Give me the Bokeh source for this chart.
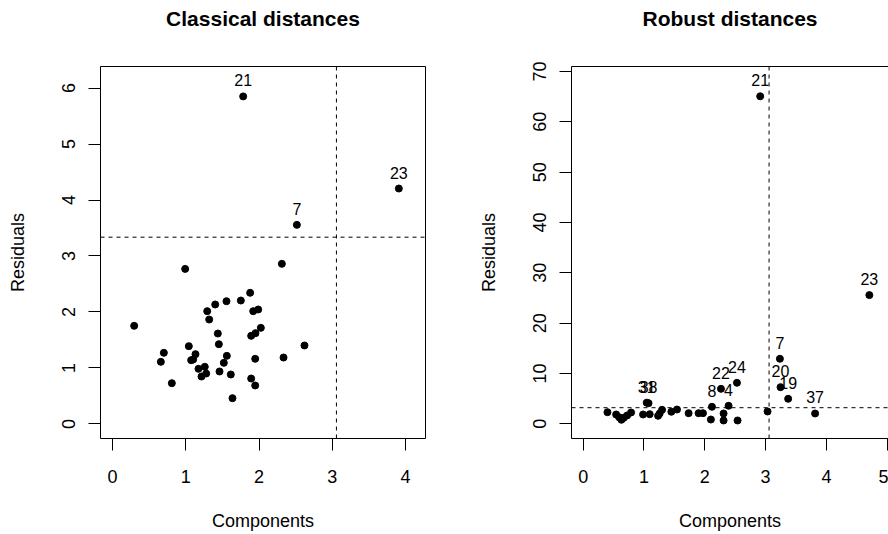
from bokeh.plotting import figure
from bokeh.layouts import row
from bokeh.models import ColumnDataSource, Span, FixedTicker, LinearAxis, Range1d
from bokeh.core.properties import value
from bokeh.embed import file_html
from bokeh.resources import INLINE

# ---- Classical distances (left panel) ----
cl_comp = [1.784, 3.909, 2.517, 2.312, 0.992, 0.296, 1.879, 1.752, 1.556, 1.402,
           1.293, 1.320, 1.921, 1.989, 2.025, 1.952, 1.893, 1.438, 1.452, 2.621,
           1.042, 0.701, 0.660, 1.133, 1.101, 1.074, 1.561, 1.520, 1.948, 2.335,
           1.260, 1.174, 1.279, 1.215, 1.461, 1.615, 1.893, 1.948, 0.810, 1.638]
cl_resid = [5.85, 4.205, 3.556, 2.86, 2.77, 1.753, 2.343, 2.205, 2.193, 2.134,
            2.015, 1.866, 2.015, 2.045, 1.717, 1.622, 1.574, 1.616, 1.425, 1.402,
            1.39, 1.271, 1.11, 1.247, 1.151, 1.14, 1.217, 1.092, 1.164, 1.187,
            1.021, 0.985, 0.901, 0.848, 0.938, 0.884, 0.812, 0.688, 0.729, 0.461]
cl_label = ["21", "23", "7"] + [""] * 37
cl_cut_comp = 3.057
cl_cut_resid = 3.336

# ---- Robust distances (right panel) ----
rb_comp = [2.911, 4.706, 3.235, 3.245, 3.371, 3.814, 2.529, 2.266, 2.118, 2.391,
           1.045, 1.075,
           0.399, 0.542, 0.591, 0.629, 0.667, 0.722, 0.788, 0.985, 1.094, 1.232,
           1.258, 1.297, 1.450, 1.543, 1.734, 1.898, 1.970, 2.100, 2.309, 2.309,
           2.539, 3.032]
rb_resid = [65.07, 25.57, 12.92, 7.28, 4.97, 2.05, 8.15, 6.95, 3.38, 3.58,
            4.2, 4.1,
            2.31, 1.85, 1.31, 0.80, 1.19, 1.65, 2.25, 1.85, 1.91, 1.59,
            2.05, 2.78, 2.39, 2.84, 2.11, 2.11, 2.11, 0.85, 2.05, 0.66,
            0.66, 2.45]
rb_label = ["21", "23", "7", "20", "19", "37", "24", "22", "8", "4", "31", "38"] + [""] * 22
rb_cut_comp = 3.057
rb_cut_resid = 3.2

FONT = "Liberation Sans"


def style_axis(ax, orient):
    ax.major_label_text_font = FONT
    ax.major_label_text_font_size = "18px"
    ax.major_label_text_color = "black"
    ax.axis_label_text_font = FONT
    ax.axis_label_text_font_size = "18px"
    ax.axis_label_text_font_style = "normal"
    ax.axis_label_text_color = "black"
    ax.major_tick_in = 0
    ax.major_tick_out = 12
    ax.minor_tick_in = 0
    ax.minor_tick_out = 0
    ax.major_tick_line_color = "black"
    if orient == "y":
        ax.major_label_orientation = "vertical"
        ax.major_label_standoff = 13
        ax.axis_label_standoff = 32
    else:
        ax.major_label_standoff = 19
        ax.axis_label_standoff = 25


def make_panel(title, xs, ys, labels, cutx, cuty, xr, yr, xt, yt, mb_left, mb_right, box):
    p = figure(width=444, height=534, output_backend="svg", toolbar_location=None,
               x_range=Range1d(*xr), y_range=Range1d(*yr),
               min_border_left=mb_left, min_border_right=mb_right,
               min_border_top=66, min_border_bottom=96,
               x_axis_label="Components", y_axis_label="Residuals")
    p.title.text = title
    p.title.text_font = FONT
    p.title.text_font_size = "21px"
    p.title.text_font_style = "bold"
    p.title.text_color = "black"
    p.title.align = "center"
    p.title.standoff = 0
    p.grid.visible = False
    p.background_fill_color = "white"
    p.border_fill_color = "white"
    p.xaxis.ticker = FixedTicker(ticks=xt)
    p.yaxis.ticker = FixedTicker(ticks=yt)
    style_axis(p.xaxis[0], "x")
    style_axis(p.yaxis[0], "y")
    if box:
        p.outline_line_color = "black"
        p.outline_line_width = 1
        p.xaxis.axis_line_color = None
        p.yaxis.axis_line_color = None
    else:
        p.outline_line_color = None
        p.xaxis.axis_line_color = "black"
        p.yaxis.axis_line_color = "black"
        top = LinearAxis(ticker=FixedTicker(ticks=[]), major_label_text_font_size="0px",
                         major_tick_out=0, minor_tick_out=0, axis_line_color="black")
        p.add_layout(top, "above")

    # invisible spacer between the title and the plot box
    spacer = LinearAxis(ticker=FixedTicker(ticks=[]), major_label_text_font_size="0px",
                        major_tick_out=0, minor_tick_out=0, axis_line_color=None,
                        axis_label="_", axis_label_text_alpha=0,
                        axis_label_text_font_size="14px", axis_label_standoff=18)
    p.add_layout(spacer, "above")

    p.add_layout(Span(location=cutx, dimension="height", line_dash="4 4",
                      line_color="black", line_width=1))
    p.add_layout(Span(location=cuty, dimension="width", line_dash="4 4",
                      line_color="black", line_width=1))

    src = ColumnDataSource(dict(x=xs, y=ys, lab=labels))
    p.scatter("x", "y", source=src, size=7, color="black", line_color="black")
    p.text("x", "y", text="lab", source=src, text_align="center", text_baseline="middle",
           y_offset=-16, text_font=value(FONT), text_font_size="16px", text_color="black")
    return p


p1 = make_panel("Classical distances", cl_comp, cl_resid, cl_label, cl_cut_comp, cl_cut_resid,
                (-0.1638, 4.273), (-0.259, 6.384), [0, 1, 2, 3, 4], [0, 1, 2, 3, 4, 5, 6],
                100, 19, True)
p2 = make_panel("Robust distances", rb_comp, rb_resid, rb_label, rb_cut_comp, rb_cut_resid,
                (-0.192, 5.021), (-2.92, 70.99), [0, 1, 2, 3, 4, 5],
                [0, 10, 20, 30, 40, 50, 60, 70], 127, 0, False)

layout = row(p1, p2, spacing=0)
open("out.html", "w").write(file_html(layout, INLINE))
